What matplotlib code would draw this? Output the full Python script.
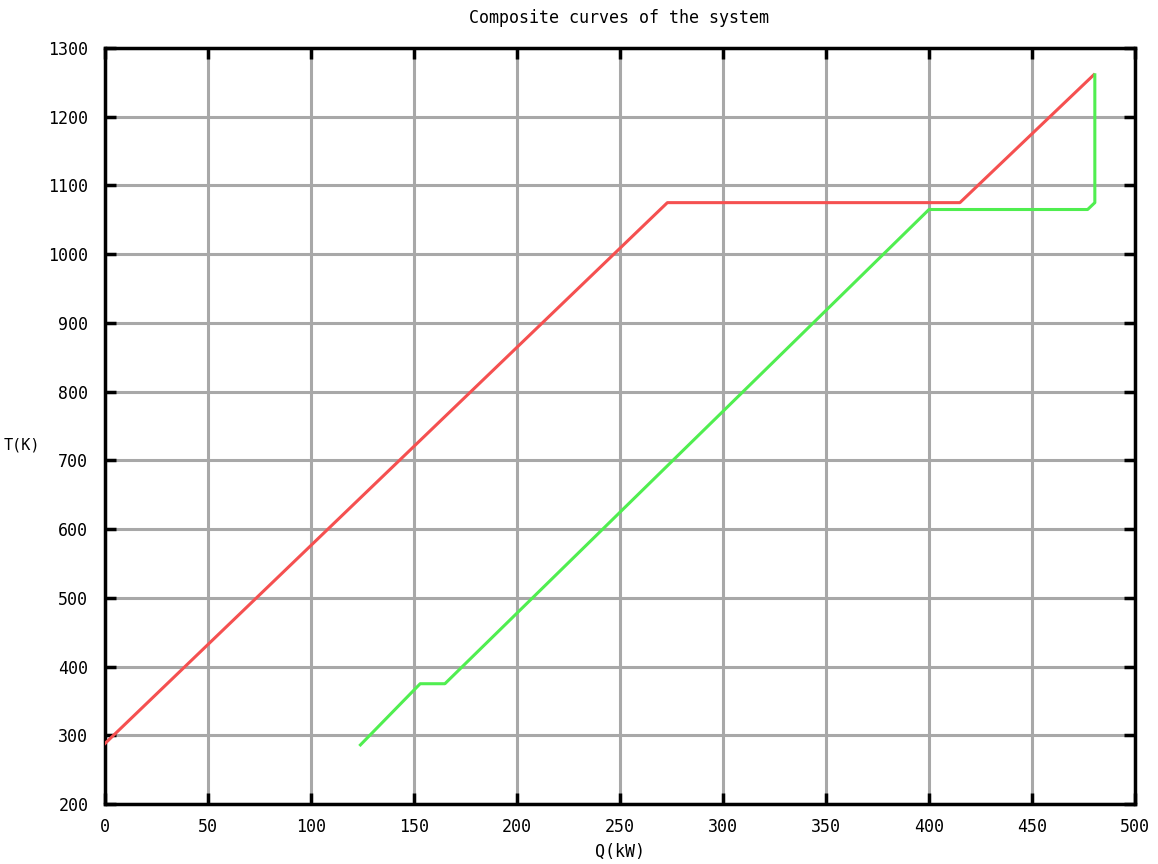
import matplotlib
matplotlib.use("Agg")
import matplotlib.pyplot as plt

# hot composite curve
hot_q = [0, 273, 415, 480]
hot_t = [288, 1075, 1075, 1261]

# cold composite curve
cold_q = [124, 153, 165, 400, 477, 480.5, 480.5]
cold_t = [286, 375, 375, 1065, 1065, 1075, 1261]

x_ticks = list(range(0, 501, 50))
y_ticks = list(range(200, 1301, 100))

plt.rcParams['font.family'] = ['DejaVu Sans Mono']

W, H = 1158, 864
fig = plt.figure(figsize=(W / 100, H / 100), dpi=100)
ax = fig.add_axes([105 / W, 1 - 804 / H, 1030 / W, 756 / H])

ax.plot(hot_q, hot_t, color='#f55050', lw=2.2, zorder=3)
ax.plot(cold_q, cold_t, color='#50ee50', lw=2.2, zorder=3)

ax.set_xlim(0, 500)
ax.set_ylim(200, 1300)
ax.set_xticks(x_ticks)
ax.set_yticks(y_ticks)
ax.grid(True, color='#a8a8a8', lw=2.2)
ax.set_axisbelow(True)
for s in ax.spines.values():
    s.set_linewidth(2.5)
ax.tick_params(direction='in', length=8, width=2.5, labelsize=12,
               top=True, right=True, pad=10)
ax.tick_params(axis='y', pad=12)

# titles placed in figure pixels, like the gnuplot output
fig.text(619 / W, 1 - 18 / H, "Composite curves of the system",
         fontsize=12, ha='center', va='center')
fig.text(620 / W, 1 - 852 / H, "Q(kW)", fontsize=12, ha='center', va='center')
fig.text(22 / W, 1 - 445 / H, "T(K)", fontsize=11, ha='center', va='center')

fig.savefig("out.png", dpi=100)
